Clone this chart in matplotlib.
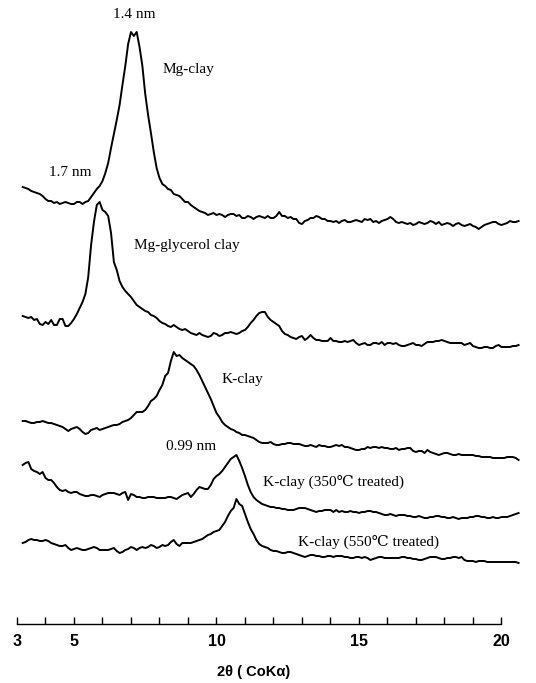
import numpy as np
import matplotlib.pyplot as plt

# 2-theta scan positions (degrees, Co K-alpha), 0.1 deg steps
two_theta = np.round(np.linspace(3.2, 20.6, 175), 1)

# stacked diffractogram traces (offset intensity, arbitrary units)
mg_clay = [437, 436, 435, 433, 432, 431, 430, 428, 425, 423,
           423, 421, 422, 420, 421, 422, 421, 420, 420, 422,
           422, 420, 422, 423, 427, 431, 435, 438, 443, 451,
           461, 476, 490, 504, 519, 539, 558, 580, 592, 588,
           592, 577, 558, 530, 509, 491, 472, 456, 446, 440,
           438, 435, 434, 430, 429, 428, 425, 422, 422, 419,
           417, 415, 413, 412, 411, 409, 410, 411, 409, 410,
           409, 407, 409, 410, 410, 408, 409, 406, 406, 408,
           407, 405, 407, 408, 407, 406, 408, 406, 406, 408,
           412, 408, 408, 406, 407, 405, 405, 401, 400, 403,
           404, 406, 406, 408, 407, 405, 405, 403, 403, 402,
           403, 401, 403, 404, 402, 402, 403, 404, 403, 402,
           405, 404, 405, 402, 403, 401, 403, 404, 405, 407,
           405, 402, 401, 402, 401, 400, 401, 399, 400, 402,
           401, 400, 401, 403, 402, 400, 402, 399, 400, 401,
           400, 398, 400, 401, 399, 398, 399, 400, 398, 397,
           395, 397, 399, 400, 401, 402, 402, 400, 399, 400,
           401, 403, 402, 402, 403]

mg_glycerol = [308, 307, 306, 307, 304, 305, 300, 299, 302, 300,
               304, 299, 299, 305, 305, 298, 298, 301, 305, 310,
               316, 322, 330, 347, 379, 402, 419, 422, 414, 412,
               408, 391, 362, 354, 343, 337, 333, 330, 327, 323,
               319, 317, 315, 313, 312, 309, 308, 306, 303, 301,
               300, 298, 297, 299, 297, 295, 294, 295, 293, 291,
               290, 289, 291, 289, 288, 287, 288, 291, 290, 288,
               289, 291, 291, 292, 291, 290, 291, 293, 294, 297,
               301, 304, 308, 311, 312, 312, 307, 304, 302, 300,
               298, 293, 290, 289, 287, 286, 285, 287, 288, 284,
               286, 289, 286, 284, 284, 283, 283, 283, 286, 283,
               283, 282, 282, 283, 282, 283, 284, 281, 279, 280,
               281, 279, 279, 281, 281, 280, 282, 279, 281, 281,
               280, 281, 279, 278, 278, 279, 280, 281, 279, 279,
               278, 280, 282, 282, 282, 283, 283, 284, 283, 282,
               281, 281, 281, 281, 281, 279, 280, 281, 278, 277,
               276, 276, 277, 277, 276, 276, 278, 279, 277, 277,
               277, 277, 278, 278, 279]

k_clay = [203, 203, 202, 201, 201, 202, 202, 203, 202, 201,
          201, 200, 199, 198, 197, 195, 193, 195, 196, 197,
          195, 192, 190, 191, 194, 195, 196, 194, 195, 196,
          197, 198, 199, 199, 200, 202, 203, 204, 206, 209,
          212, 212, 212, 214, 218, 223, 225, 228, 234, 239,
          248, 251, 263, 272, 268, 269, 266, 264, 262, 260,
          258, 254, 249, 243, 237, 231, 225, 218, 211, 207,
          202, 199, 197, 195, 194, 192, 191, 189, 189, 188,
          187, 186, 184, 182, 181, 181, 181, 182, 180, 179,
          179, 180, 180, 181, 181, 180, 180, 180, 179, 178,
          178, 179, 178, 177, 179, 178, 178, 177, 177, 178,
          179, 178, 179, 177, 177, 176, 175, 174, 174, 175,
          175, 177, 176, 177, 177, 176, 177, 176, 176, 175,
          175, 176, 174, 175, 175, 176, 176, 173, 172, 173,
          173, 171, 174, 172, 171, 170, 169, 170, 171, 171,
          170, 169, 169, 170, 169, 169, 169, 169, 169, 168,
          168, 167, 167, 167, 167, 166, 166, 166, 166, 166,
          167, 167, 167, 166, 164]

k_clay_350 = [159, 161, 162, 155, 153, 152, 150, 152, 146, 144,
              144, 141, 137, 134, 133, 134, 132, 131, 132, 132,
              130, 129, 128, 128, 129, 129, 128, 127, 129, 130,
              131, 131, 131, 130, 129, 131, 132, 124, 130, 129,
              127, 127, 126, 126, 127, 127, 127, 126, 126, 126,
              126, 127, 127, 126, 125, 127, 129, 130, 131, 127,
              130, 134, 137, 136, 135, 135, 139, 145, 148, 150,
              153, 157, 161, 165, 167, 169, 163, 156, 148, 139,
              132, 127, 124, 122, 120, 119, 118, 117, 117, 116,
              116, 115, 115, 114, 114, 114, 115, 116, 116, 116,
              115, 114, 113, 112, 113, 113, 114, 114, 114, 112,
              114, 112, 113, 112, 112, 113, 112, 112, 111, 112,
              112, 113, 113, 112, 112, 111, 110, 109, 109, 110,
              109, 108, 109, 109, 109, 108, 108, 107, 107, 108,
              107, 106, 106, 107, 107, 108, 108, 107, 107, 106,
              106, 107, 106, 105, 106, 106, 106, 107, 107, 108,
              108, 107, 107, 106, 106, 107, 106, 106, 107, 107,
              107, 108, 109, 110, 111]

k_clay_550 = [81, 82, 84, 85, 84, 84, 83, 83, 84, 83,
              81, 80, 79, 78, 78, 79, 76, 74, 75, 76,
              75, 74, 74, 75, 76, 77, 76, 74, 74, 74,
              74, 75, 76, 73, 71, 72, 74, 75, 77, 76,
              74, 76, 77, 76, 77, 79, 78, 76, 77, 79,
              78, 79, 82, 84, 80, 78, 81, 81, 81, 81,
              82, 83, 84, 85, 87, 89, 90, 92, 93, 94,
              98, 102, 108, 113, 116, 125, 120, 118, 110, 102,
              95, 90, 84, 80, 78, 77, 76, 74, 73, 73,
              72, 71, 71, 72, 72, 71, 70, 69, 68, 67,
              68, 69, 69, 68, 68, 67, 67, 68, 68, 67,
              68, 68, 68, 67, 67, 66, 66, 67, 67, 66,
              67, 66, 64, 65, 66, 67, 67, 66, 66, 66,
              66, 66, 66, 67, 67, 66, 66, 65, 65, 64,
              64, 65, 66, 67, 67, 67, 66, 65, 65, 66,
              66, 67, 67, 66, 67, 64, 63, 63, 63, 62,
              63, 63, 63, 62, 62, 62, 62, 62, 62, 62,
              62, 62, 62, 62, 61]

tick_pos = list(range(3, 21))
tick_text = ['3', '', '5', '', '', '', '', '10', '', '', '', '', '15',
             '', '', '', '', '20']

serif = ['Liberation Serif', 'DejaVu Serif', 'DejaVu Sans']

fig = plt.figure(figsize=(5.36, 6.83), dpi=100)
ax = fig.add_axes([0, 0, 1, 1])
ax.set_xlim(2.404, 21.211)
ax.set_ylim(-59, 624)

for trace in [mg_clay, mg_glycerol, k_clay, k_clay_350, k_clay_550]:
    ax.plot(two_theta, trace, color='black', lw=1.4)

for side in ['top', 'left', 'right']:
    ax.spines[side].set_visible(False)
ax.spines['bottom'].set_position(('data', 0))
ax.spines['bottom'].set_bounds(3, 20)
ax.spines['bottom'].set_linewidth(1.0)
ax.set_yticks([])
ax.set_xticks(tick_pos)
ax.set_xticklabels(tick_text, fontfamily='Liberation Sans', fontweight='bold',
                   fontsize=11.5)
ax.tick_params(axis='x', direction='in', length=5, width=1, pad=7)

# peak and sample annotations
ax.text(7.1, 609, '1.4 nm', ha='center', va='center', fontsize=11, family=serif)
ax.text(8.09, 554, 'Mg-clay', ha='left', va='center', fontsize=11, family=serif)
ax.text(4.86, 451, '1.7 nm', ha='center', va='center', fontsize=11, family=serif)
ax.text(7.1, 379, 'Mg-glycerol clay', ha='left', va='center', fontsize=11, family=serif)
ax.text(10.16, 244, 'K-clay', ha='left', va='center', fontsize=11, family=serif)
ax.text(8.23, 178, '0.99 nm', ha='left', va='center', fontsize=11, family=serif)
ax.text(11.63, 142, 'K-clay (350℃ treated)', ha='left', va='center',
        fontsize=11, family=serif)
ax.text(12.86, 82, 'K-clay (550℃ treated)', ha='left', va='center',
        fontsize=11, family=serif)
ax.text(11.32, -48, '2θ ( CoKα)', ha='center', va='center', fontsize=10.5,
        fontweight='bold', family=['Liberation Sans', 'DejaVu Sans'])

fig.savefig('out.png', dpi=100, facecolor='white')
